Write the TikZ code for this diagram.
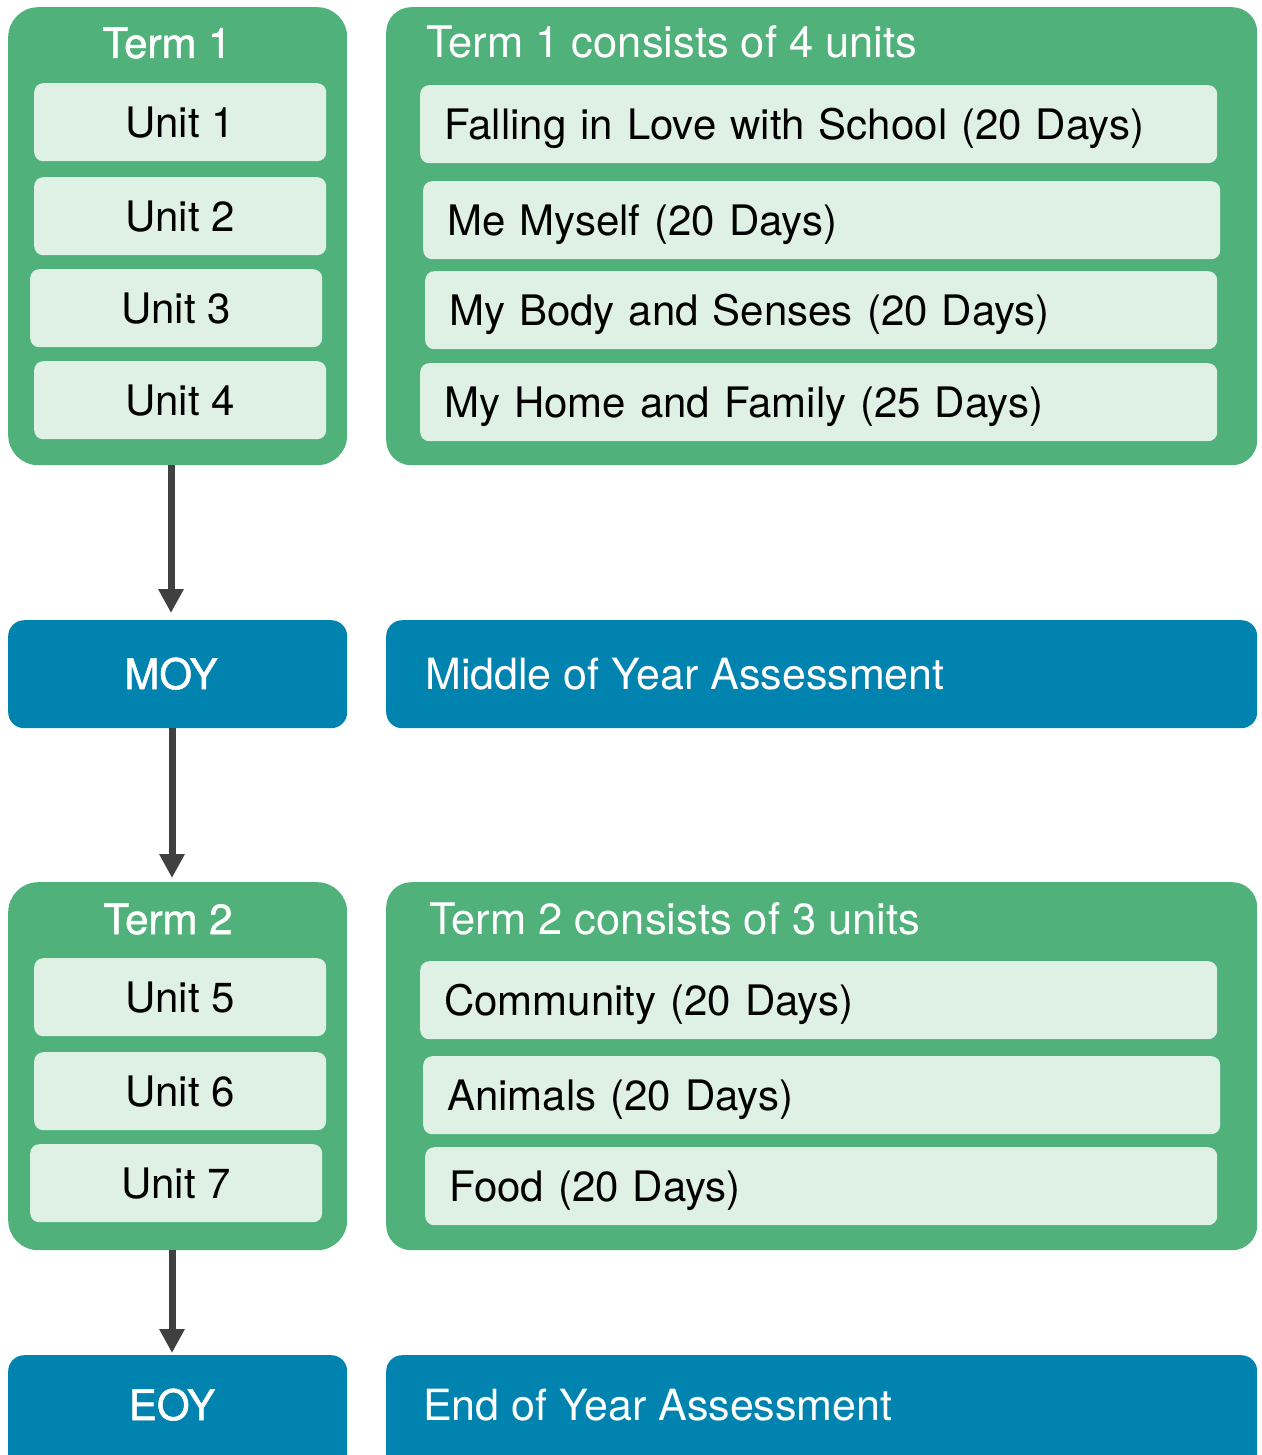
\documentclass[tikz,border=0pt]{standalone}
\usepackage{fontspec}
\setmainfont{TeX Gyre Heros}
\newfontfamily\medfont[FakeBold=1.2]{TeX Gyre Heros}
\usetikzlibrary{arrows.meta}
\definecolor{tgreen}{HTML}{50B27A}
\definecolor{tlight}{HTML}{DFF0E5}
\definecolor{tblue}{HTML}{0084AF}
\definecolor{tarrow}{HTML}{404040}
\begin{document}
\begin{tikzpicture}[x=1pt,y=-1pt,
  bigfont/.style={font=\fontsize{42}{48}\selectfont},
  medbig/.style={font=\fontsize{42}{48}\medfont},
  termbox/.style={fill=tgreen, rounded corners=30pt, inner sep=0pt, anchor=north west},
  infobox/.style={fill=tgreen, rounded corners=25pt, inner sep=0pt, anchor=north west},
  assessbox/.style={fill=tblue, rounded corners=16pt, inner sep=0pt, anchor=north west},
  unitbox/.style={bigfont, fill=tlight, rounded corners=9pt, inner sep=0pt, anchor=north west,
    minimum width=292pt, minimum height=78pt, text height=30pt, text depth=0pt},
  topicbox/.style={bigfont, fill=tlight, rounded corners=9pt, inner xsep=24pt, inner ysep=0pt,
    anchor=north west, minimum height=78pt, text height=30pt, text depth=0pt, align=left},
  termtitle/.style={medbig, text=white, anchor=base, inner sep=0pt},
  infotitle/.style={font=\fontsize{43.5}{48}\selectfont, text=white, anchor=base west, inner sep=0pt},
  assesstext/.style={font=\fontsize{43}{48}\selectfont, text=white, inner sep=0pt, text height=30pt, text depth=0pt},
  arr/.style={draw=tarrow, line width=7pt, -{Triangle[width=24pt,length=24pt]}}
]
\clip (0,0) rectangle (1261,1455);
% Term 1
\node[termbox, minimum width=339pt, minimum height=458pt] (t1box) at (8,7) {};
\node[termtitle] (t1title) at (167,58) {Term 1};
\node[unitbox] (u1) at (34,83) {Unit 1};
\node[unitbox] (u2) at (34,177) {Unit 2};
\node[unitbox] (u3) at (30,269) {Unit 3};
\node[unitbox] (u4) at (34,361) {Unit 4};
\node[infobox, minimum width=871pt, minimum height=458pt] (i1box) at (386,7) {};
\node[infotitle] (i1title) at (426,58) {Term 1 consists of 4 units};
\node[topicbox, text width=749pt] (p1) at (420,85) {Falling in Love with School (20 Days)};
\node[topicbox, text width=749pt] (p2) at (423,181) {Me Myself (20 Days)};
\node[topicbox, text width=744pt] (p3) at (425,271) {My Body and Senses (20 Days)};
\node[topicbox, text width=749pt] (p4) at (420,363) {My Home and Family (25 Days)};
% MOY
\node[assessbox, minimum width=339pt, minimum height=108pt] (moybox) at (8,620) {};
\node[assesstext, medbig] (moytext) at (171,674) {MOY};
\node[assessbox, minimum width=871pt, minimum height=108pt] (midbox) at (386,620) {};
\node[assesstext, anchor=west] (midtext) at (425,674) {Middle of Year Assessment};
% Term 2
\node[termbox, minimum width=339pt, minimum height=368pt] (t2box) at (8,882) {};
\node[termtitle] (t2title) at (168,934) {Term 2};
\node[unitbox] (u5) at (34,958) {Unit 5};
\node[unitbox] (u6) at (34,1052) {Unit 6};
\node[unitbox] (u7) at (30,1144) {Unit 7};
\node[infobox, minimum width=871pt, minimum height=368pt] (i2box) at (386,882) {};
\node[infotitle] (i2title) at (429,934) {Term 2 consists of 3 units};
\node[topicbox, text width=749pt] (p5) at (420,961) {Community (20 Days)};
\node[topicbox, text width=749pt] (p6) at (423,1056) {Animals (20 Days)};
\node[topicbox, text width=744pt] (p7) at (425,1147) {Food (20 Days)};
% EOY
\node[assessbox, minimum width=339pt, minimum height=130pt] (eoybox) at (8,1355) {};
\node[assesstext, medbig] (eoytext) at (172,1405) {EOY};
\node[assessbox, minimum width=871pt, minimum height=130pt] (endbox) at (386,1355) {};
\node[assesstext, anchor=west] (endtext) at (423,1405) {End of Year Assessment};
% arrows
\draw[arr, shorten >=7pt] (t1box.south -| moytext) -- (moybox.north -| moytext);
\draw[arr, shorten >=4pt] (moybox.south -| eoytext) -- (t2box.north -| eoytext);
\draw[arr, shorten >=2pt] (t2box.south -| eoytext) -- (eoybox.north -| eoytext);
\end{tikzpicture}
\end{document}
